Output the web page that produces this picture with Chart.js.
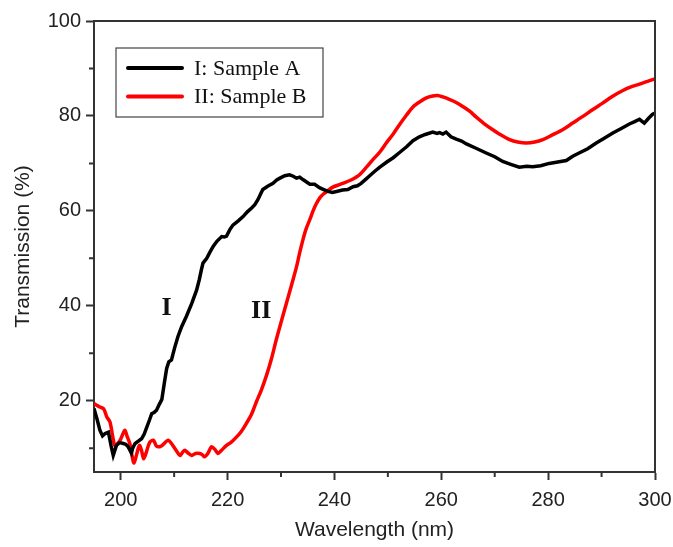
<!DOCTYPE html>
<html>
<head>
<meta charset="utf-8">
<script src="https://cdn.jsdelivr.net/npm/chart.js@4"></script>
<style>
  html, body { margin: 0; padding: 0; background: #fff; }
  #wrap { width: 673px; height: 547px; }
</style>
</head>
<body>
<div id="wrap"><canvas id="specChart" width="673" height="547"></canvas></div>
<script>
// wavelength (nm) / transmission (%)
const wavelengthA = [195, 195.6, 196.1, 196.6, 197.1, 197.7, 198.2, 198.6, 199.2, 199.8, 200.5, 201.0, 201.4, 202.0, 202.3, 202.7, 203.3, 203.9, 204.4, 204.9, 205.4, 205.8, 206.3, 206.7, 207.2, 207.7, 208.2, 208.6, 209.0, 209.5, 210.1, 210.7, 211.4, 212.3, 213.3, 214.2, 214.7, 215.1, 215.4, 216.1, 216.7, 217.3, 218.0, 218.9, 219.4, 219.8, 220.4, 221.0, 222.0, 222.9, 223.7, 224.5, 225.1, 225.7, 226.2, 226.6, 227.5, 228.5, 229.2, 229.8, 230.7, 231.6, 232.3, 232.9, 233.5, 234.1, 235.4, 236.3, 237.2, 238.0, 238.8, 239.6, 240.4, 241.5, 242.5, 243.5, 244.3, 245.0, 246.0, 246.6, 247.5, 248.5, 249.8, 251.0, 252.2, 253.5, 254.7, 255.9, 257.0, 258.4, 259.2, 259.7, 260.3, 260.9, 261.8, 262.8, 263.8, 264.7, 266.5, 268.4, 270.0, 271.5, 273.0, 274.6, 276.0, 277.1, 278.6, 280.2, 281.8, 283.4, 284.6, 285.8, 287.4, 289.0, 290.5, 292.1, 293.6, 295.2, 296.2, 297.1, 298.0, 298.8, 299.5, 300];
const transA = [18.4, 16.0, 13.8, 12.6, 13.1, 13.4, 10.5, 8.5, 10.6, 11.2, 11.0, 10.8, 10.3, 9.0, 10.2, 11.0, 11.5, 12.0, 13.0, 14.5, 16.0, 17.3, 17.6, 18.0, 19.2, 20.3, 24.0, 26.8, 28.2, 28.6, 31.2, 33.5, 35.6, 37.8, 40.5, 43.3, 45.5, 47.6, 49.0, 50.0, 51.3, 52.5, 53.6, 54.6, 54.5, 54.7, 56.0, 57.0, 57.9, 58.8, 59.8, 60.6, 61.3, 62.4, 63.6, 64.5, 65.2, 65.8, 66.5, 66.9, 67.4, 67.6, 67.3, 66.9, 67.1, 66.6, 65.6, 65.6, 64.9, 64.5, 64.1, 63.9, 64.1, 64.4, 64.5, 65.1, 65.3, 65.8, 66.8, 67.4, 68.3, 69.2, 70.3, 71.2, 72.3, 73.5, 74.8, 75.6, 76.1, 76.6, 76.3, 76.5, 76.2, 76.6, 75.6, 75.1, 74.7, 74.1, 73.2, 72.2, 71.4, 70.4, 69.8, 69.2, 69.4, 69.3, 69.5, 70.0, 70.3, 70.6, 71.5, 72.2, 73.1, 74.3, 75.3, 76.4, 77.3, 78.3, 78.8, 79.3, 78.5, 79.5, 80.3, 80.6];

const wavelengthB = [195, 196.1, 196.8, 197.4, 198.0, 198.5, 198.9, 199.4, 199.9, 200.4, 200.8, 201.2, 201.7, 202.1, 202.5, 203.0, 203.5, 203.9, 204.3, 204.8, 205.4, 206.1, 206.6, 207.0, 207.6, 208.3, 208.9, 209.5, 210.3, 211.1, 211.6, 212.0, 212.6, 213.3, 214.0, 214.8, 215.3, 215.7, 216.3, 217.0, 217.6, 218.2, 218.8, 219.8, 220.7, 221.7, 222.6, 223.5, 224.5, 225.4, 226.3, 227.3, 228.2, 229.1, 230.0, 231.0, 232.0, 232.9, 233.5, 234.1, 234.7, 235.4, 236.0, 236.6, 237.3, 238.0, 238.8, 239.7, 240.6, 241.8, 242.9, 243.9, 244.7, 246.0, 247.2, 248.5, 249.7, 251.0, 252.2, 253.5, 254.7, 256.0, 257.2, 258.4, 259.3, 260.3, 261.5, 262.7, 264.0, 265.3, 266.5, 268.0, 269.5, 271.0, 272.8, 274.3, 275.9, 277.5, 279.0, 280.8, 282.7, 284.6, 286.5, 288.3, 290.2, 292.0, 293.9, 295.5, 297.1, 298.6, 300];
const transB = [19.4, 18.7, 18.3, 16.6, 15.5, 12.5, 10.6, 11.0, 11.7, 13.0, 13.8, 12.5, 11.0, 8.5, 6.9, 8.8, 10.6, 9.5, 7.8, 9.2, 11.2, 11.7, 10.6, 10.3, 10.5, 11.2, 11.7, 11.0, 9.7, 8.5, 9.2, 9.6, 9.0, 8.5, 8.9, 8.9, 8.6, 8.2, 8.9, 10.3, 9.8, 8.9, 9.5, 10.6, 11.3, 12.4, 13.6, 15.2, 17.2, 19.8, 22.2, 25.4, 28.8, 32.8, 36.5, 40.5, 44.5, 48.2, 51.2, 53.9, 56.2, 58.2, 60.0, 61.5, 62.8, 63.6, 64.3, 65.0, 65.4, 65.9, 66.4, 67.0, 67.6, 69.2, 70.8, 72.4, 74.3, 76.2, 78.2, 80.2, 81.9, 83.0, 83.8, 84.2, 84.3, 84.0, 83.5, 82.9, 82.0, 81.0, 79.8, 78.4, 77.2, 76.1, 75.0, 74.5, 74.3, 74.5, 75.0, 76.0, 77.1, 78.5, 79.9, 81.3, 82.7, 84.1, 85.3, 86.1, 86.7, 87.3, 87.8];

const seriesLabels = ['I: Sample A', 'II: Sample B'];
const curveTags = ['I', 'II'];
const xMajor = [200, 220, 240, 260, 280, 300];
const xMinor = [210, 230, 250, 270, 290];
const yMajor = [20, 40, 60, 80, 100];
const yMinor = [10, 30, 50, 70, 90];

const axisColor = '#333';

// frame on top/right, minor ticks, inner legend and curve tags
const extras = {
    id: 'extras',
    afterDraw(chart) {
        const ctx = chart.ctx;
        const a = chart.chartArea;
        const xs = chart.scales.x, ys = chart.scales.y;
        ctx.save();
        ctx.strokeStyle = axisColor;
        ctx.lineWidth = 2;
        ctx.beginPath();
        ctx.moveTo(a.left, a.top);
        ctx.lineTo(a.right, a.top);
        ctx.lineTo(a.right, a.bottom);
        ctx.stroke();

        ctx.beginPath();
        xMinor.forEach(v => {
            const px = xs.getPixelForValue(v);
            ctx.moveTo(px, a.bottom);
            ctx.lineTo(px, a.bottom + 5);
        });
        yMinor.forEach(v => {
            const py = ys.getPixelForValue(v);
            ctx.moveTo(a.left, py);
            ctx.lineTo(a.left - 5, py);
        });
        ctx.stroke();

        // legend box
        const bx = a.left + 22, by = a.top + 27;
        ctx.lineWidth = 1.2;
        ctx.strokeStyle = '#444';
        ctx.strokeRect(bx, by, 207, 69);
        ctx.font = '22px "Liberation Serif", "Times New Roman", serif';
        ctx.textBaseline = 'middle';
        chart.data.datasets.forEach((ds, i) => {
            const ly = by + 20 + i * 28.5;
            ctx.strokeStyle = ds.borderColor;
            ctx.lineWidth = 4;
            ctx.lineCap = 'round';
            ctx.beginPath();
            ctx.moveTo(bx + 12, ly);
            ctx.lineTo(bx + 66, ly);
            ctx.stroke();
            ctx.fillStyle = '#111';
            ctx.fillText(ds.label, bx + 78, ly + 1);
        });

        // curve tags
        ctx.font = 'bold 26px "Liberation Serif", "Times New Roman", serif';
        ctx.textAlign = 'center';
        ctx.fillStyle = '#111';
        ctx.fillText(curveTags[0], xs.getPixelForValue(208.6), ys.getPixelForValue(39.5));
        ctx.fillText(curveTags[1], xs.getPixelForValue(226.3), ys.getPixelForValue(38.8));
        ctx.restore();
    }
};

const tickFont = { family: '"Liberation Sans", Arial, sans-serif', size: 20 };
const titleFont = { family: '"Liberation Sans", Arial, sans-serif', size: 21 };

new Chart('specChart', {
    type: 'line',
    data: {
        datasets: [{
            label: seriesLabels[0],
            data: wavelengthA.map((w, i) => ({ x: w, y: transA[i] })),
            borderColor: '#000000',
            borderWidth: 3.5,
            pointRadius: 0,
            tension: 0
        }, {
            label: seriesLabels[1],
            data: wavelengthB.map((w, i) => ({ x: w, y: transB[i] })),
            borderColor: '#ff0000',
            borderWidth: 3.5,
            pointRadius: 0,
            tension: 0.3
        }]
    },
    options: {
        responsive: false,
        animation: false,
        layout: { padding: { left: 0, right: 18, top: 21, bottom: 0 } },
        plugins: {
            legend: { display: false },
            tooltip: { enabled: false }
        },
        scales: {
            x: {
                type: 'linear',
                min: 195,
                max: 300,
                afterBuildTicks: s => { s.ticks = xMajor.map(v => ({ value: v })); },
                afterFit: s => { s.height = 75; s.paddingLeft = 0; s.paddingRight = 0; },
                border: { display: true, color: axisColor, width: 2 },
                grid: { drawOnChartArea: false, drawTicks: true, tickLength: 8, tickColor: axisColor, tickWidth: 2 },
                ticks: { color: '#222', font: tickFont, padding: 8, maxRotation: 0 },
                title: { display: true, text: 'Wavelength (nm)', color: '#222', font: titleFont, padding: { top: 0, bottom: 4 } }
            },
            y: {
                min: 5,
                max: 100,
                afterBuildTicks: s => { s.ticks = yMajor.map(v => ({ value: v })); },
                afterFit: s => { s.width = 94; s.paddingTop = 0; s.paddingBottom = 0; },
                border: { display: true, color: axisColor, width: 2 },
                grid: { drawOnChartArea: false, drawTicks: true, tickLength: 8, tickColor: axisColor, tickWidth: 2 },
                ticks: { color: '#222', font: tickFont, padding: 5 },
                title: { display: true, text: 'Transmission (%)', color: '#222', font: titleFont, padding: { top: 11, bottom: 0 } }
            }
        }
    },
    plugins: [extras]
});
</script>
</body>
</html>
